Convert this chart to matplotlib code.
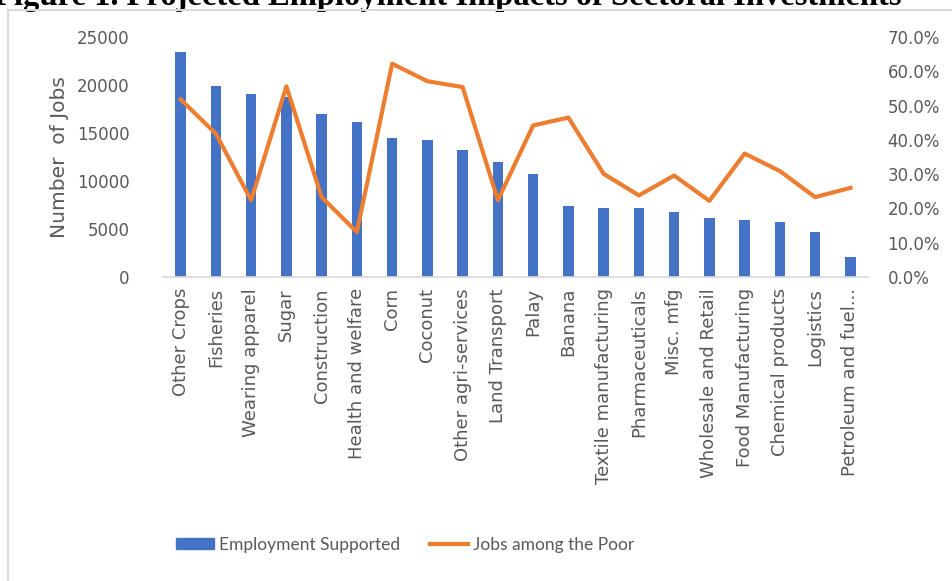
import matplotlib
matplotlib.use("Agg")
import matplotlib.pyplot as plt
from matplotlib.patches import Rectangle
from matplotlib.lines import Line2D
from matplotlib.ticker import PercentFormatter

# data
sectors = ["Other Crops", "Fisheries", "Wearing apparel", "Sugar", "Construction",
           "Health and welfare", "Corn", "Coconut", "Other agri-services", "Land Transport",
           "Palay", "Banana", "Textile manufacturing", "Pharmaceuticals", "Misc. mfg",
           "Wholesale and Retail", "Food Manufacturing", "Chemical products", "Logistics",
           "Petroleum and fuel..."]
jobs = [23400, 19900, 19100, 18800, 17000, 16100, 14500, 14300, 13200, 11950,
        10700, 7400, 7150, 7150, 6750, 6100, 5900, 5700, 4650, 2100]
poor_share = [51.8, 41.8, 22.4, 55.6, 23.3, 13.1, 62.2, 57.1, 55.4, 22.4,
              44.2, 46.5, 30.1, 23.8, 29.6, 22.2, 36.0, 30.9, 23.3, 26.0]

blue = "#4472c4"
orange = "#ed7d31"
grey = "#595959"
font = "DejaVu Sans"

fig = plt.figure(figsize=(9.52, 5.81), dpi=100)

# outer chart border (cut off at right/bottom like the screenshot)
fig.patches.append(Rectangle((8 / 952, -0.01), 1.0, (581 - 10) / 581 + 0.01,
                             transform=fig.transFigure, fill=False,
                             edgecolor="#d9d9d9", linewidth=1.5, zorder=5))

# title, clipped at the top edge as in the screenshot
fig.text(-0.006, 1 - 5 / 581, "Figure 1. Projected Employment Impacts of Sectoral Investments",
         fontsize=23.5, fontweight="bold", family="Liberation Serif", va="baseline", ha="left")

ax = fig.add_axes([163 / 952, 1 - 277 / 581, (868 - 163) / 952, (277 - 37) / 581])
x = range(len(sectors))
ax.bar(x, jobs, width=0.3, color=blue, zorder=2)
ax.set_xlim(-0.5, len(sectors) - 0.5)
ax.set_ylim(0, 25000)
ax.set_yticks(range(0, 25001, 5000))
ax.set_xticks(list(x))
ax.set_xticklabels(sectors, rotation=90, fontsize=13, color=grey, family=font)
ax.tick_params(axis="x", length=0, pad=8)
ax.tick_params(axis="y", length=0, labelsize=12, labelcolor=grey, pad=24)
for lbl in ax.get_yticklabels():
    lbl.set_family(font)
ax.set_ylabel("Number  of Jobs", fontsize=14.5, color=grey, family=font, labelpad=6)
for s in ["top", "right", "left"]:
    ax.spines[s].set_visible(False)
ax.spines["bottom"].set_color("#d9d9d9")
ax.spines["bottom"].set_linewidth(1.2)

ax2 = ax.twinx()
ax2.plot(list(x), poor_share, color=orange, linewidth=3, solid_joinstyle="round", zorder=3)
ax2.set_ylim(0, 70)
ax2.set_yticks(range(0, 71, 10))
ax2.yaxis.set_major_formatter(PercentFormatter(decimals=1))
ax2.tick_params(axis="y", length=0, labelsize=12, labelcolor=grey, pad=14)
for lbl in ax2.get_yticklabels():
    lbl.set_family(font)
for s in ax2.spines.values():
    s.set_visible(False)

handles = [Rectangle((0, 0), 1, 1, color=blue),
           Line2D([0], [0], color=orange, linewidth=3)]
fig.legend(handles, ["Employment Supported", "Jobs among the Poor"],
           loc="center", bbox_to_anchor=(405 / 952, 1 - 545 / 581), ncol=2,
           frameon=False, prop={"family": "Lato", "size": 12.5}, labelcolor=grey,
           handlelength=2.2, handleheight=0.6, handletextpad=0.3, columnspacing=1.7)

fig.savefig("out.png", dpi=100)
